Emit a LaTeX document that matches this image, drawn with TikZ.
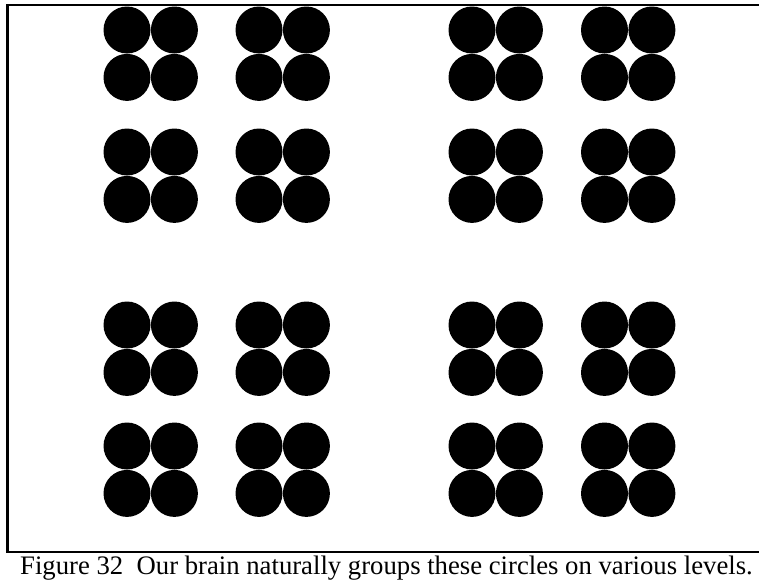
\documentclass[tikz,border=0pt]{standalone}
\usepackage{fontspec}
\setmainfont{Liberation Serif}
\usetikzlibrary{calc,positioning}
\tikzstyle{l1}=[line width=2.2]
\tikzstyle{dot}=[circle, fill=black, minimum size=47pt, inner sep=0pt]
\begin{document}
\begin{tikzpicture}[x=1pt, y=-1pt]
    \useasboundingbox (0,0) rectangle (759,581);
    % frame
    \coordinate (tl) at (7.5,5);
    \coordinate (tr) at (760,5);
    \coordinate (bl) at (7.5,552);
    \coordinate (br) at (760,552);
    \draw[l1] (tr) -- (tl) -- (bl);
    \draw[l1] ($(bl)+(-1.1,0)$) -- (br);

    % four groups of four groups of four circles
    \foreach \gx/\cx in {1/127, 2/259, 3/472, 4/604.5} {
        \foreach \gy/\cy in {1/30, 2/152, 3/325, 4/446} {
            \node[dot] (c\gx\gy a) at (\cx,\cy) {};
            \node[dot, right=0pt of c\gx\gy a] (c\gx\gy b) {};
            \node[dot, below=0pt of c\gx\gy a] (c\gx\gy c) {};
            \node[dot, below=0pt of c\gx\gy b] (c\gx\gy d) {};
        }
    }

    \node[anchor=base west, inner sep=0pt, font=\fontsize{26.7}{30}\selectfont] (caption) at (20,574)
        {Figure 32\ \ Our brain naturally groups these circles on various levels.};
\end{tikzpicture}
\end{document}
